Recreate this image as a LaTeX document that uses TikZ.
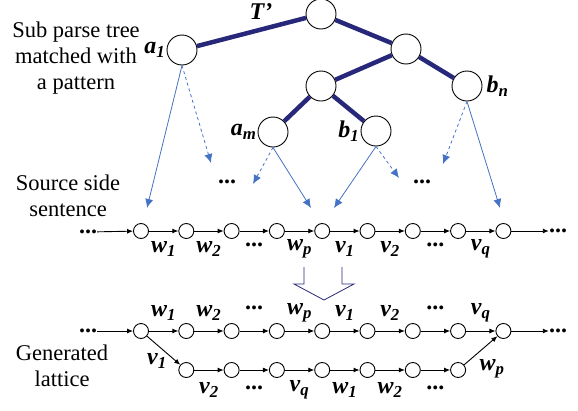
\documentclass[tikz,border=0pt]{standalone}
\usepackage{fontspec}
\setmainfont{Liberation Serif}
\usetikzlibrary{arrows.meta}
\definecolor{treeblue}{RGB}{40,40,122}
\definecolor{linkblue}{RGB}{68,114,196}
\newcommand{\lab}[2]{\textbf{\textit{#1\textsubscript{#2}}}}
\tikzset{
  tnode/.style={circle,draw,line width=0.9pt,minimum size=30pt,inner sep=0pt},
  cnode/.style={circle,draw,line width=0.9pt,minimum size=15pt,inner sep=0pt},
  treeedge/.style={line width=4.5pt,treeblue},
  chain/.style={-{Latex[length=6pt,width=5pt]},line width=0.9pt},
  link/.style={-{Latex[length=9pt,width=8pt]},line width=0.8pt,linkblue},
  lbl/.style={font=\fontsize{24}{26}\selectfont\bfseries\itshape,inner sep=1pt},
  dots/.style={font=\fontsize{24}{24}\selectfont\bfseries,inner sep=0pt},
  txt/.style={font=\fontsize{22.5}{26}\selectfont,align=center,inner sep=0pt}
}
\begin{document}
\begin{tikzpicture}[x=1pt,y=-1pt]
    \useasboundingbox (0,0) rectangle (578,410);
    % parse tree
    \node[tnode] (root) at (321,14) {};
    \node[tnode] (a1) at (182,50) {};
    \node[tnode] (mid) at (406,49) {};
    \node[tnode] (low) at (321,86) {};
    \node[tnode] (bn) at (467,86) {};
    \node[tnode] (am) at (273,132) {};
    \node[tnode] (b1) at (376,131) {};
    \draw[treeedge] (root) -- (a1);
    \draw[treeedge] (root) -- (mid);
    \draw[treeedge] (mid) -- (low);
    \draw[treeedge] (mid) -- (bn);
    \draw[treeedge] (low) -- (am);
    \draw[treeedge] (low) -- (b1);
    \node[lbl] (tlab) at (261,12) {T’};
    \node[lbl,left=0pt] (a1lab) at (a1.west) {\lab{a}{1}};
    \node[lbl,left=0pt] (amlab) at (am.west) {\lab{a}{m}};
    \node[lbl,left=0pt] (b1lab) at (b1.west) {\lab{b}{1}};
    \node[lbl,right=3pt] (bnlab) at (bn.east) {\lab{b}{n}};
    \node[txt] (subtree) at (76,58) {Sub parse tree\\matched with\\a pattern};
    \node[txt] (source) at (68,196) {Source side\\sentence};
    \node[txt] (lattice) at (62,366) {Generated\\lattice};

    % source side sentence
    \foreach \i in {0,...,8}
        \node[cnode] (s\i) at (141+45.3*\i,231) {};
    \node[dots] (sl) at (88,232) {...};
    \node[dots] (sr) at (558,231) {...};
    \draw[chain] (sl) -- (s0);
    \foreach \i [evaluate=\i as \j using int(\i+1)] in {0,...,7}
        \draw[chain] (s\i) -- (s\j);
    \draw[chain] (s8) -- (sr);
    \foreach \i/\t/\s in {0/w/1,1/w/2,3/w/p,4/v/1,5/v/2,7/v/q}
        \node[lbl] at (163.6+45.3*\i,249) {\lab{\t}{\s}};
    \foreach \i in {2,6}
        \node[dots] at (163.6+45.3*\i,245) {...};

    % links from the tree to the sentence
    \coordinate (e1) at (147,208);
    \coordinate (e2) at (211,163);
    \coordinate (e3) at (253,184);
    \coordinate (e4) at (311,208);
    \coordinate (e5) at (334,208);
    \coordinate (e6) at (399,178);
    \coordinate (e7) at (443,164);
    \coordinate (e8) at (500,208);
    \draw[link] (a1.south) -- (e1);
    \draw[link,dashed] (a1.south) -- (e2);
    \draw[link,dashed] (am.south) -- (e3);
    \draw[link] (am.south) -- (e4);
    \draw[link] (b1.south) -- (e5);
    \draw[link,dashed] (b1.south) -- (e6);
    \draw[link,dashed] (bn.south) -- (e7);
    \draw[link] (bn.south) -- (e8);
    \node[dots] (md1) at (227,182) {...};
    \node[dots] (md2) at (422,182) {...};

    % open arrow
    \draw[treeblue,line width=0.8pt] (304,267) -- (304,284) -- (294,284) -- (324,300)
        -- (354,284) -- (342,284) -- (342,267);

    % generated lattice
    \foreach \i in {0,...,8}
        \node[cnode] (t\i) at (141+45.3*\i,331) {};
    \foreach \i in {1,...,7}
        \node[cnode] (u\i) at (141+45.3*\i,370) {};
    \node[dots] (tl) at (88,331) {...};
    \node[dots] (tr) at (558,331) {...};
    \draw[chain] (tl) -- (t0);
    \foreach \i [evaluate=\i as \j using int(\i+1)] in {0,...,7}
        \draw[chain] (t\i) -- (t\j);
    \draw[chain] (t8) -- (tr);
    \draw[chain] (t0) -- (u1);
    \foreach \i [evaluate=\i as \j using int(\i+1)] in {1,...,6}
        \draw[chain] (u\i) -- (u\j);
    \draw[chain] (u7) -- (t8);
    \foreach \i/\t/\s in {0/w/1,1/w/2,3/w/p,4/v/1,5/v/2,7/v/q}
        \node[lbl] at (163.6+45.3*\i,313) {\lab{\t}{\s}};
    \foreach \i in {2,6}
        \node[dots] at (163.6+45.3*\i,308) {...};
    \foreach \i/\t/\s in {1/v/2,3/v/q,4/w/1,5/w/2}
        \node[lbl] at (163.6+45.3*\i,390) {\lab{\t}{\s}};
    \foreach \i in {2,6}
        \node[dots] at (163.6+45.3*\i,388) {...};
    \node[lbl] (v1lab) at (157,361) {\lab{v}{1}};
    \node[lbl] (wplab) at (492,369) {\lab{w}{p}};
\end{tikzpicture}
\end{document}
